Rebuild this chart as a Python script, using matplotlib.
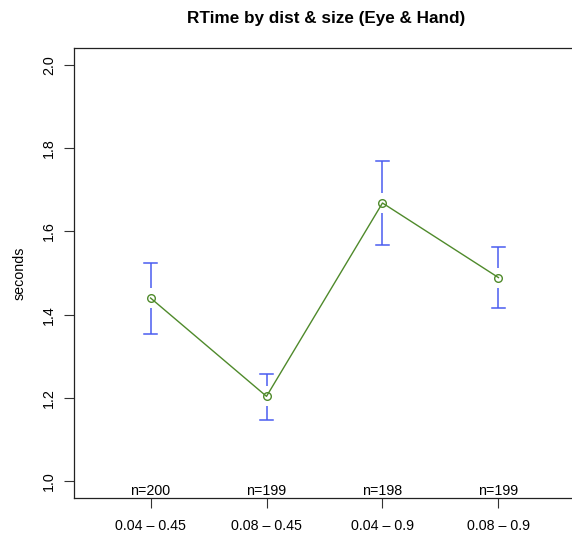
import matplotlib
matplotlib.use("Agg")
import matplotlib.pyplot as plt

plt.rcParams['font.family'] = ['Liberation Sans', 'DejaVu Sans']

categories = ["0.04 \u2013 0.45", "0.08 \u2013 0.45", "0.04 \u2013 0.9", "0.08 \u2013 0.9"]
means = [1.440, 1.204, 1.668, 1.489]
upper = [1.525, 1.257, 1.768, 1.563]
lower = [1.354, 1.148, 1.567, 1.416]
counts = [200, 199, 198, 199]
y_ticks = [1.0, 1.2, 1.4, 1.6, 1.8, 2.0]

W, H = 572, 537
fig = plt.figure(figsize=(W / 100, H / 100), dpi=100)
ax = fig.add_axes([74 / W, 1 - 498 / H, 501 / W, 450 / H])

x = list(range(1, len(means) + 1))
ax.set_xlim(0.34, 4.66)
ax.set_ylim(0.96, 2.04)

line_col = '#4f8a2b'
bar_col = '#4a5cf0'
fs = 10.3

# gap around each mean point, in data units (about 10 px)
gap = 10 * (2.04 - 0.96) / 450
cap = 0.058
for xi, m, lo, hi in zip(x, means, lower, upper):
    ax.plot([xi, xi], [m + gap, hi], color=bar_col, lw=1.1, solid_capstyle='butt')
    ax.plot([xi, xi], [lo, m - gap], color=bar_col, lw=1.1, solid_capstyle='butt')
    ax.plot([xi - cap, xi + cap], [hi, hi], color=bar_col, lw=1.1)
    ax.plot([xi - cap, xi + cap], [lo, lo], color=bar_col, lw=1.1)

ax.plot(x, means, color=line_col, lw=1.0, marker='o', markersize=5.5,
        markerfacecolor='none', markeredgecolor=line_col, markeredgewidth=1.0)

for xi, n in zip(x, counts):
    ax.text(xi, 0.961, f"n={n}", ha='center', va='bottom', fontsize=fs)

ax.set_xticks(x)
ax.set_xticklabels(categories, fontsize=fs)
ax.set_yticks(y_ticks)
ax.set_yticklabels([f"{v:.1f}" for v in y_ticks], fontsize=fs, rotation=90, va='center')
ax.tick_params(axis='both', length=7, width=0.8, color='#333333')
ax.tick_params(axis='x', pad=8)
ax.tick_params(axis='y', pad=6)

for s in ['top', 'left', 'bottom', 'right']:
    ax.spines[s].set_linewidth(0.9)
    ax.spines[s].set_color('#222222')

ax.set_ylabel("seconds", fontsize=fs, labelpad=11)
ax.set_title("RTime by dist & size (Eye & Hand)", fontsize=12.3, fontweight='bold',
             pad=18, x=(326 - 74) / 501)

fig.savefig("out.png", dpi=100)
